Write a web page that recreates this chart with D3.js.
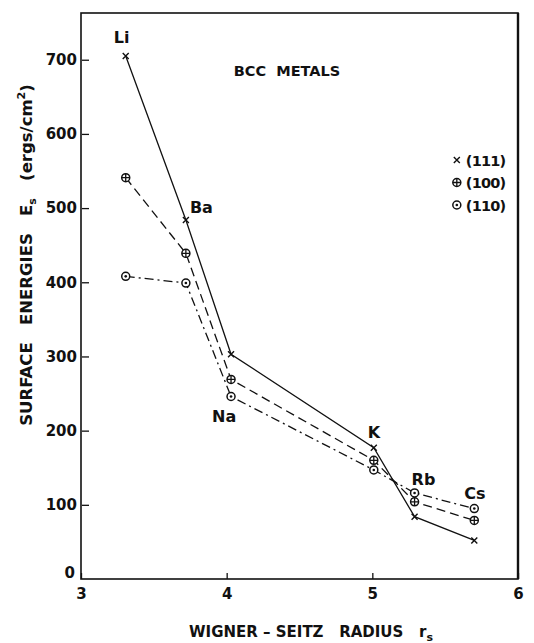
<!DOCTYPE html>
<html>
<head>
<meta charset="utf-8">
<script src="https://cdn.jsdelivr.net/npm/d3@7"></script>
<style>
  body { margin: 0; background: #fff; }
  text { font-family: 'DejaVu Sans', sans-serif; font-weight: bold; fill: #111; white-space: pre; }
</style>
</head>
<body>
<div id="chart"></div>
<script>
// values
var metals = ['Li', 'Ba', 'Na', 'K', 'Rb', 'Cs'];
var radius = [3.307, 3.72, 4.03, 5.01, 5.29, 5.70];
var e111 = [705, 484, 303, 177, 84, 52];
var e100 = [541, 439, 269, 160, 104, 79];
var e110 = [408, 399, 246, 147, 116, 95];
var xTicks = [3, 4, 5, 6];
var yTicks = [0, 100, 200, 300, 400, 500, 600, 700];

var width = 534, height = 643;
var margin = { top: 13, right: 16, bottom: 64, left: 81 };
var w = width - margin.left - margin.right;
var h = height - margin.top - margin.bottom;

var svg = d3.select('#chart').append('svg')
  .attr('width', width)
  .attr('height', height);

var g = svg.append('g')
  .attr('transform', 'translate(' + margin.left + ',' + margin.top + ')');

var x = d3.scaleLinear().domain([3, 6]).range([0, w]);
var y = d3.scaleLinear().domain([0, 763]).range([h, 0]);

// frame
g.append('rect')
  .attr('width', w).attr('height', h)
  .attr('fill', 'none').attr('stroke', '#111').attr('stroke-width', 1.6);
g.append('line').attr('x1', w).attr('x2', w).attr('y1', 0).attr('y2', h)
  .attr('stroke', '#111').attr('stroke-width', 2.4);

var xAxis = g.append('g')
  .attr('transform', 'translate(0,' + h + ')')
  .call(d3.axisBottom(x).tickValues(xTicks).tickFormat(d3.format('d')).tickSizeInner(-6).tickSizeOuter(0).tickPadding(9));
var yAxis = g.append('g')
  .call(d3.axisLeft(y).tickValues(yTicks.filter(function(d) { return d > 0; })).tickSizeInner(-7).tickSizeOuter(0).tickPadding(4));
[xAxis, yAxis].forEach(function(a) {
  a.select('.domain').remove();
  a.selectAll('line').attr('stroke', '#111').attr('stroke-width', 1.3);
  a.selectAll('text').attr('font-size', 15).style('font-family', "'DejaVu Sans', sans-serif").style('font-weight', 'bold').attr('fill', '#111');
});
yAxis.selectAll('.tick line').attr('transform', 'translate(1,0)');
// the zero label sits just above the corner
g.append('text').attr('x', -6).attr('y', y(0) - 1).attr('text-anchor', 'end')
  .attr('font-size', 15).text(yTicks[0]);

var series = [
  { key: '(111)', vals: e111, dash: null, mark: 'x' },
  { key: '(100)', vals: e100, dash: '9,5', mark: 'plus' },
  { key: '(110)', vals: e110, dash: '9,4,2,4', mark: 'dot' }
];

var line = d3.line()
  .x(function(d) { return x(d[0]); })
  .y(function(d) { return y(d[1]); });

function drawMark(sel, type) {
  if (type === 'x') {
    sel.append('path').attr('d', 'M-3,-3L3,3M-3,3L3,-3')
      .attr('stroke', '#111').attr('stroke-width', 1.4).attr('fill', 'none');
  } else {
    sel.append('circle').attr('r', 4).attr('fill', '#fff')
      .attr('stroke', '#111').attr('stroke-width', 1.5);
    if (type === 'plus') {
      sel.append('path').attr('d', 'M-4,0L4,0M0,-4L0,4')
        .attr('stroke', '#111').attr('stroke-width', 1.3);
    } else {
      sel.append('circle').attr('r', 1.3).attr('fill', '#111');
    }
  }
}

series.forEach(function(s) {
  var pts = radius.map(function(r, i) { return [r, s.vals[i]]; });
  g.append('path')
    .datum(pts)
    .attr('d', line)
    .attr('fill', 'none')
    .attr('stroke', '#111')
    .attr('stroke-width', 1.3)
    .attr('stroke-dasharray', s.dash);
  g.selectAll(null).data(pts).enter().append('g')
    .attr('transform', function(d) { return 'translate(' + x(d[0]) + ',' + y(d[1]) + ')'; })
    .each(function() { drawMark(d3.select(this), s.mark); });
});

// metal labels, offset from the (111) point
var labelOff = [[-12, -13], [4, -7], [-19, 68], [-6, -10], [-3, -32], [-10, -41]];
metals.forEach(function(m, i) {
  g.append('text')
    .attr('x', x(radius[i]) + labelOff[i][0])
    .attr('y', y(e111[i]) + labelOff[i][1])
    .attr('font-size', 16)
    .text(m);
});

// title
g.append('text').attr('x', 206).attr('y', 63).attr('text-anchor', 'middle')
  .attr('font-size', 14.5).text('BCC  METALS');

// legend
var legend = g.append('g').attr('transform', 'translate(' + x(5.58) + ',147)');
series.forEach(function(s, i) {
  var row = legend.append('g').attr('transform', 'translate(0,' + (i * 22.5) + ')');
  drawMark(row.append('g'), s.mark);
  row.append('text').attr('x', 9).attr('y', 5.5).attr('font-size', 14.5)
    .attr('letter-spacing', -0.8).text(s.key);
});

// axis titles
var xt = svg.append('text')
  .attr('x', 311).attr('y', 637).attr('text-anchor', 'middle').attr('font-size', 15);
xt.append('tspan').text('WIGNER – SEITZ   RADIUS   r');
xt.append('tspan').attr('font-size', 11).attr('dy', 4).text('s');

var yt = svg.append('text')
  .attr('transform', 'translate(32,255) rotate(-90)')
  .attr('text-anchor', 'middle').attr('font-size', 16.5);
yt.append('tspan').text('SURFACE   ENERGIES   E');
yt.append('tspan').attr('font-size', 11).attr('dy', 4).text('s');
yt.append('tspan').attr('dy', -4).text('   (ergs/cm');
yt.append('tspan').attr('font-size', 11).attr('dy', -7).text('2');
yt.append('tspan').attr('dy', 7).text(')');
</script>
</body>
</html>
